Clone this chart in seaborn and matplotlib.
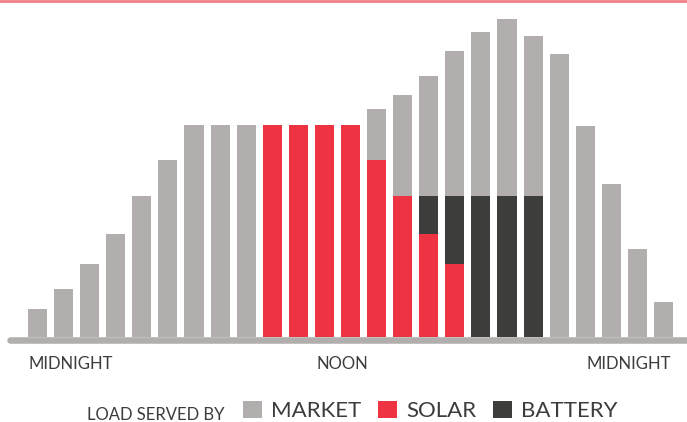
import numpy as np
import matplotlib
matplotlib.use("Agg")
import matplotlib.pyplot as plt
import seaborn as sns
from matplotlib.patches import Patch
from matplotlib.lines import Line2D

# hourly load, midnight to midnight (arbitrary units)
hours = list(range(25))
solar = [0, 0, 0, 0, 0, 0, 0, 0, 0, 212, 212, 212, 212, 177, 141, 103, 73,
         0, 0, 0, 0, 0, 0, 0, 0]
battery = [0, 0, 0, 0, 0, 0, 0, 0, 0, 0, 0, 0, 0, 0, 0, 38, 68,
           141, 141, 141, 0, 0, 0, 0, 0]
market = [28, 48, 73, 103, 141, 177, 212, 212, 212, 0, 0, 0, 0, 51, 101, 120, 145,
          164, 177, 160, 283, 211, 153, 88, 35]

series_names = ["MARKET", "SOLAR", "BATTERY"]
colors = {"MARKET": "#b1aead", "SOLAR": "#ee3342", "BATTERY": "#3d3d3b"}
text_color = "#3c3c3c"

solar = np.array(solar)
battery = np.array(battery)
market = np.array(market)
# cumulative tops, drawn back to front (solar at the bottom, market on top)
top_market = solar + battery + market
top_battery = solar + battery

sns.set_style("white")
plt.rcParams["font.family"] = ["Lato", "DejaVu Sans"]

fig = plt.figure(figsize=(6.87, 4.22), dpi=100)
ax = fig.add_axes([0, 85 / 422, 1, 337 / 422])

bw = 0.73
bar_kw = dict(saturation=1, width=bw, linewidth=0, ax=ax)
sns.barplot(x=hours, y=top_market, color=colors["MARKET"], **bar_kw)
sns.barplot(x=hours, y=top_battery, color=colors["BATTERY"], **bar_kw)
sns.barplot(x=hours, y=solar, color=colors["SOLAR"], **bar_kw)

ax.set_xlim(-37.5 / 26.083, (687 - 37.5) / 26.083)
ax.set_ylim(0, 337)
ax.set_axis_off()

# baseline
ax.axhline(-3.3, xmin=9.5 / 687, xmax=1.02, color="#b1aead", lw=4.7,
           solid_capstyle="round", clip_on=False)
# pink rule at the top
fig.add_artist(Line2D([0, 1], [1 - 1.2 / 422, 1 - 1.2 / 422], color="#f07880", lw=1.9))

# time labels
ax.text(-0.36, -32, "MIDNIGHT", ha="left", va="baseline", fontsize=12, color=text_color)
ax.text(11.68, -32, "NOON", ha="center", va="baseline", fontsize=12, color=text_color)
ax.text(24.3, -32, "MIDNIGHT", ha="right", va="baseline", fontsize=12, color=text_color)

# legend
fig.text(87 / 687, 2.5 / 422, "LOAD SERVED BY", ha="left", va="baseline",
         fontsize=12, color=text_color)
handles = [Patch(facecolor=colors[n], edgecolor="none") for n in series_names]
leg = fig.legend(handles, series_names, loc="center left",
                 bbox_to_anchor=(243 / 687, 11 / 422), ncol=3, frameon=False,
                 fontsize=16, handlelength=0.85, handleheight=0.85,
                 handletextpad=0.42, columnspacing=0.75, borderpad=0, borderaxespad=0)
for t in leg.get_texts():
    t.set_color(text_color)

fig.savefig("out.png", dpi=100)
